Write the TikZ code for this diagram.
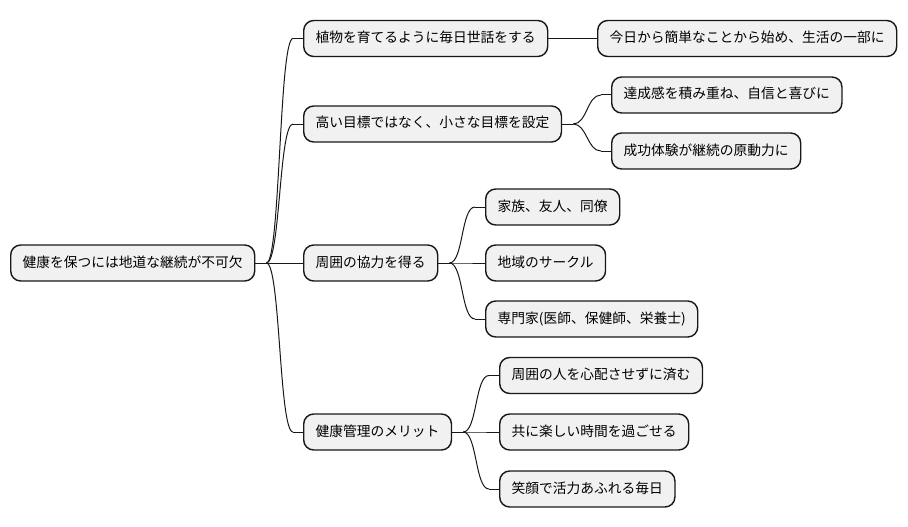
\documentclass[tikz,border=0pt]{standalone}
\usepackage{fontspec}
\newfontfamily\jpfont{Noto Sans CJK JP}
\usetikzlibrary{calc}
\definecolor{boxfill}{HTML}{F1F1F1}
\definecolor{boxline}{HTML}{181818}
\tikzset{
  mmbox/.style={draw=boxline, fill=boxfill, line width=1.4pt, rounded corners=10pt,
    anchor=west, minimum height=36pt, inner xsep=12pt, inner ysep=0pt,
    text height=11pt, text depth=3pt,
    font=\jpfont\fontsize{13.75}{16}\selectfont, text=black},
  link/.style={draw=boxline, line width=1pt}
}
\newcommand\mmlink[2]{%
  \draw[link] (#1.east) -- ++(11,0) coordinate (s-#2);
  \draw[link] (#2.west) -- ++(-10,0) coordinate (e-#2);
  \draw[link] (s-#2) .. controls ($(s-#2)+(14,0)$) and ($(e-#2)+(-14,0)$) .. (e-#2);
}
\begin{document}
\begin{tikzpicture}[x=1pt,y=-1pt]
\useasboundingbox (0,0) rectangle (908,527);
\node[mmbox] (root) at (10,263) {健康を保つには地道な継続が不可欠};
\node[mmbox] (A) at (303,38.5) {植物を育てるように毎日世話をする};
\node[mmbox] (B) at (303,124) {高い目標ではなく、小さな目標を設定};
\node[mmbox] (C) at (303,263) {周囲の協力を得る};
\node[mmbox] (D) at (303,432) {健康管理のメリット};
\node[mmbox] (A1) at (597,38.5) {今日から簡単なことから始め、生活の一部に};
\node[mmbox] (B1) at (611,95) {達成感を積み重ね、自信と喜びに};
\node[mmbox] (B2) at (611,151) {成功体験が継続の原動力に};
\node[mmbox] (C1) at (485,207) {家族、友人、同僚};
\node[mmbox] (C2) at (485,263) {地域のサークル};
\node[mmbox] (C3) at (485,319) {専門家(医師、保健師、栄養士)};
\node[mmbox] (D1) at (499,375.5) {周囲の人を心配させずに済む};
\node[mmbox] (D2) at (499,432) {共に楽しい時間を過ごせる};
\node[mmbox] (D3) at (499,489) {笑顔で活力あふれる毎日};
\mmlink{root}{A}
\mmlink{root}{B}
\mmlink{root}{C}
\mmlink{root}{D}
\mmlink{A}{A1}
\mmlink{B}{B1}
\mmlink{B}{B2}
\mmlink{C}{C1}
\mmlink{C}{C2}
\mmlink{C}{C3}
\mmlink{D}{D1}
\mmlink{D}{D2}
\mmlink{D}{D3}
\end{tikzpicture}
\end{document}
